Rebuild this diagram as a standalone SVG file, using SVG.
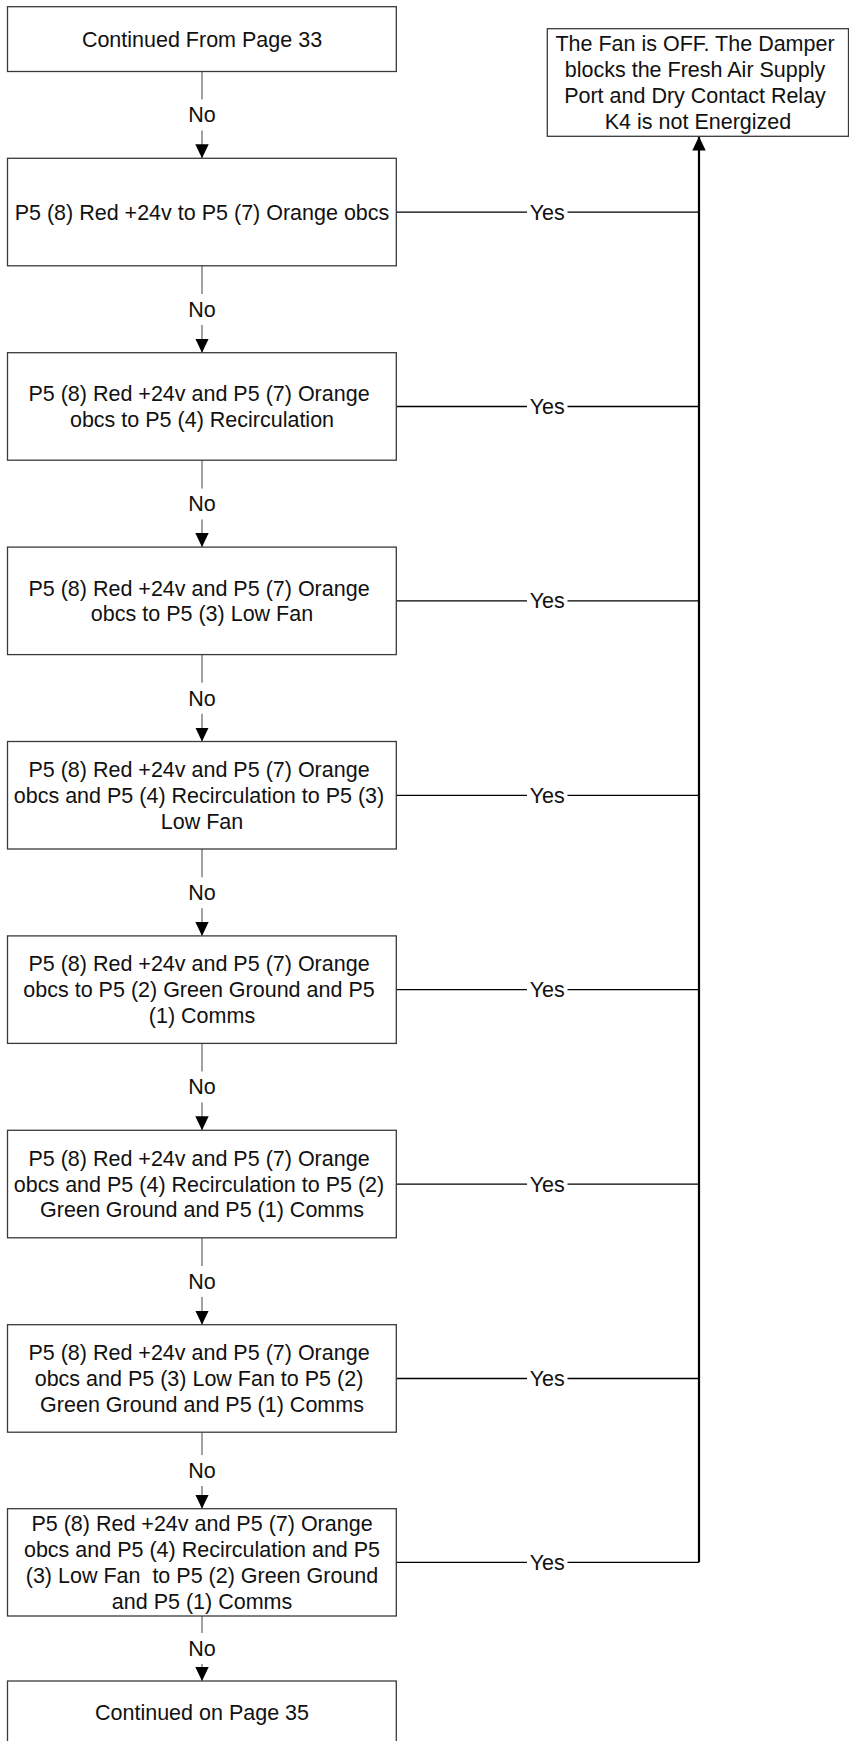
<svg xmlns="http://www.w3.org/2000/svg" width="849" height="1741" viewBox="0 0 849 1741">
  <style>
    .box { fill: #ffffff; stroke: #3a3a3a; stroke-width: 1.3; }
    .txt { font-family: "Liberation Sans", Arial, sans-serif; font-size: 21.5px; fill: #111111; text-anchor: middle; }
    .no { fill: none; stroke: #707070; stroke-width: 1.3; }
    .yes { fill: none; stroke: #000000; stroke-width: 1.3; }
    .trunk { fill: none; stroke: #000000; stroke-width: 2.2; }
  </style>
  <defs>
    <marker id="arrow" markerUnits="userSpaceOnUse" markerWidth="14" markerHeight="14" viewBox="0 0 14 14" refX="14" refY="7" orient="auto">
      <path d="M0,0.3 L14,7 L0,13.7 Z" fill="#000000"/>
    </marker>
  </defs>
  <rect x="0" y="0" width="849" height="1741" fill="#ffffff"/>

  <!-- connectors -->
  <g id="connectors">
    <!-- "No" flow down the left column -->
    <path class="no" d="M202,71.7 V99.5 M202,130.5 V158.3" marker-end="url(#arrow)"/>
    <path class="no" d="M202,265.8 V294 M202,325 V352.7" marker-end="url(#arrow)"/>
    <path class="no" d="M202,460.2 V488.5 M202,519.5 V547.1" marker-end="url(#arrow)"/>
    <path class="no" d="M202,654.6 V682.8 M202,713.8 V741.5" marker-end="url(#arrow)"/>
    <path class="no" d="M202,849 V877.2 M202,908.2 V935.9" marker-end="url(#arrow)"/>
    <path class="no" d="M202,1043.4 V1071.6 M202,1102.6 V1130.3" marker-end="url(#arrow)"/>
    <path class="no" d="M202,1237.8 V1266 M202,1297 V1324.7" marker-end="url(#arrow)"/>
    <path class="no" d="M202,1432.2 V1455 M202,1486 V1508.7" marker-end="url(#arrow)"/>
    <path class="no" d="M202,1616 V1633 M202,1664 V1681" marker-end="url(#arrow)"/>
    <g class="txt">
      <text x="202" y="122.3">No</text>
      <text x="202" y="316.7">No</text>
      <text x="202" y="511.1">No</text>
      <text x="202" y="705.5">No</text>
      <text x="202" y="899.9">No</text>
      <text x="202" y="1094.3">No</text>
      <text x="202" y="1288.7">No</text>
      <text x="202" y="1477.9">No</text>
      <text x="202" y="1656">No</text>
    </g>

    <!-- "Yes" branches to the shared return line -->
    <path class="yes" d="M396.3,212.1 H527 M567.5,212.1 H699"/>
    <path class="yes" d="M396.3,406.5 H527 M567.5,406.5 H699"/>
    <path class="yes" d="M396.3,600.9 H527 M567.5,600.9 H699"/>
    <path class="yes" d="M396.3,795.3 H527 M567.5,795.3 H699"/>
    <path class="yes" d="M396.3,989.7 H527 M567.5,989.7 H699"/>
    <path class="yes" d="M396.3,1184.1 H527 M567.5,1184.1 H699"/>
    <path class="yes" d="M396.3,1378.5 H527 M567.5,1378.5 H699"/>
    <path class="yes" d="M396.3,1562.3 H527 M567.5,1562.3 H699"/>
    <g class="txt">
      <text x="547.3" y="219.6">Yes</text>
      <text x="547.3" y="414">Yes</text>
      <text x="547.3" y="608.4">Yes</text>
      <text x="547.3" y="802.8">Yes</text>
      <text x="547.3" y="997.2">Yes</text>
      <text x="547.3" y="1191.6">Yes</text>
      <text x="547.3" y="1386">Yes</text>
      <text x="547.3" y="1569.8">Yes</text>
    </g>
    <path class="trunk" d="M699,1562.3 V136.5" marker-end="url(#arrow)"/>
  </g>

  <!-- nodes -->
  <g id="start">
    <rect class="box" x="7.5" y="6.7" width="388.8" height="64.8"/>
    <text class="txt" x="202" y="46.6">Continued From Page 33</text>
  </g>

  <g id="result">
    <rect class="box" x="547.3" y="28.7" width="301.2" height="107.6"/>
    <text class="txt">
      <tspan x="698" y="51.3">The Fan is OFF. The Damper</tspan>
      <tspan x="698" y="77.1">blocks the Fresh Air Supply</tspan>
      <tspan x="698" y="102.9">Port and Dry Contact Relay</tspan>
      <tspan x="698" y="128.7">K4 is not Energized</tspan>
    </text>
  </g>

  <g id="check1">
    <rect class="box" x="7.5" y="158.3" width="388.8" height="107.5"/>
    <text class="txt" x="202" y="219.6">P5 (8) Red +24v to P5 (7) Orange obcs</text>
  </g>

  <g id="check2">
    <rect class="box" x="7.5" y="352.7" width="388.8" height="107.5"/>
    <text class="txt">
      <tspan x="202" y="401.1">P5 (8) Red +24v and P5 (7) Orange</tspan>
      <tspan x="202" y="426.9">obcs to P5 (4) Recirculation</tspan>
    </text>
  </g>

  <g id="check3">
    <rect class="box" x="7.5" y="547.1" width="388.8" height="107.5"/>
    <text class="txt">
      <tspan x="202" y="595.5">P5 (8) Red +24v and P5 (7) Orange</tspan>
      <tspan x="202" y="621.3">obcs to P5 (3) Low Fan</tspan>
    </text>
  </g>

  <g id="check4">
    <rect class="box" x="7.5" y="741.5" width="388.8" height="107.5"/>
    <text class="txt">
      <tspan x="202" y="777">P5 (8) Red +24v and P5 (7) Orange</tspan>
      <tspan x="202" y="802.8">obcs and P5 (4) Recirculation to P5 (3)</tspan>
      <tspan x="202" y="828.6">Low Fan</tspan>
    </text>
  </g>

  <g id="check5">
    <rect class="box" x="7.5" y="935.9" width="388.8" height="107.5"/>
    <text class="txt">
      <tspan x="202" y="971.4">P5 (8) Red +24v and P5 (7) Orange</tspan>
      <tspan x="202" y="997.2">obcs to P5 (2) Green Ground and P5</tspan>
      <tspan x="202" y="1023">(1) Comms</tspan>
    </text>
  </g>

  <g id="check6">
    <rect class="box" x="7.5" y="1130.3" width="388.8" height="107.5"/>
    <text class="txt">
      <tspan x="202" y="1165.8">P5 (8) Red +24v and P5 (7) Orange</tspan>
      <tspan x="202" y="1191.6">obcs and P5 (4) Recirculation to P5 (2)</tspan>
      <tspan x="202" y="1217.4">Green Ground and P5 (1) Comms</tspan>
    </text>
  </g>

  <g id="check7">
    <rect class="box" x="7.5" y="1324.7" width="388.8" height="107.5"/>
    <text class="txt">
      <tspan x="202" y="1360.2">P5 (8) Red +24v and P5 (7) Orange</tspan>
      <tspan x="202" y="1386">obcs and P5 (3) Low Fan to P5 (2)</tspan>
      <tspan x="202" y="1411.8">Green Ground and P5 (1) Comms</tspan>
    </text>
  </g>

  <g id="check8">
    <rect class="box" x="7.5" y="1508.7" width="388.8" height="107.3"/>
    <text class="txt" xml:space="preserve"><tspan x="202" y="1531.1">P5 (8) Red +24v and P5 (7) Orange</tspan><tspan x="202" y="1556.9">obcs and P5 (4) Recirculation and P5</tspan><tspan x="202" y="1582.7">(3) Low Fan  to P5 (2) Green Ground</tspan><tspan x="202" y="1608.5">and P5 (1) Comms</tspan></text>
  </g>

  <g id="end">
    <rect class="box" x="7.5" y="1681" width="388.8" height="65"/>
    <text class="txt" x="202" y="1720.4">Continued on Page 35</text>
  </g>
</svg>
